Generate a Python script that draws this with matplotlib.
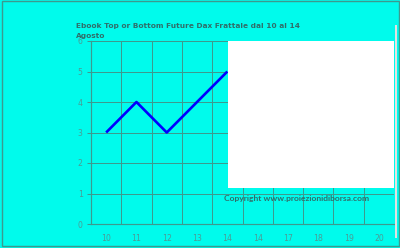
import matplotlib
matplotlib.use("Agg")
import matplotlib.pyplot as plt
from matplotlib.patches import Rectangle

categories = ["10", "11", "12", "13", "14", "14", "17", "18", "19", "20"]
values = [3, 4, 3, 4, 5]
yticks = [0, 1, 2, 3, 4, 5, 6]
title_lines = ["Ebook Top or Bottom Future Dax Frattale dal 10 al 14", "Agosto"]
copyright_text = "Copyright www.proiezionidiborsa.com"

W, H = 400, 248
bg = "#00fbec"
grid_c = "#3c9a8e"
tick_c = "#4a9c96"
title_c = "#2f6e6a"

fig = plt.figure(figsize=(W / 100, H / 100), dpi=100, facecolor=bg)

def fx(px):
    return px / W

def fy(py):
    return 1 - py / H

left, right, top, bottom = 91, 394, 41, 224
ax = fig.add_axes([fx(left), fy(bottom), fx(right - left), (bottom - top) / H])
ax.set_facecolor(bg)

x = list(range(len(values)))
ax.plot(x, values, color="#0000ff", lw=1.9, solid_capstyle="butt", zorder=3)

ax.set_xlim(-0.5, len(categories) - 0.5)
ax.set_ylim(0, 6)
ax.set_xticks(range(len(categories)))
ax.set_xticklabels(categories)
ax.set_yticks(yticks)
ax.set_yticklabels([str(v) for v in yticks])

for k in range(len(categories) - 1):
    ax.axvline(k + 0.5, color=grid_c, lw=0.72, zorder=1)
for v in yticks[1:]:
    ax.axhline(v, color=grid_c, lw=0.72, zorder=1)

for s in ["top", "right"]:
    ax.spines[s].set_visible(False)
for s in ["left", "bottom"]:
    ax.spines[s].set_color(grid_c)
    ax.spines[s].set_linewidth(0.85)

ax.tick_params(axis="x", length=0, pad=7, labelsize=5.6, labelcolor=tick_c)
ax.tick_params(axis="y", length=3, width=0.75, color=grid_c, pad=3,
               labelsize=5.6, labelcolor=tick_c)

# white box with light side bar
fig.patches.append(Rectangle((fx(228), fy(188)), fx(394 - 228), (188 - 41) / H,
                             transform=fig.transFigure, facecolor="white",
                             edgecolor="none", zorder=5))
fig.patches.append(Rectangle((fx(395), fy(238)), fx(2), (238 - 25) / H,
                             transform=fig.transFigure, facecolor="#e2e2e2",
                             edgecolor="none", zorder=5))

for i, line in enumerate(title_lines):
    fig.text(fx(76), fy(28 + 10 * i), line, ha="left", va="baseline",
             fontsize=5.3, fontweight="bold", color=title_c,
             family="DejaVu Sans")
fig.text(fx(224), fy(199), copyright_text, ha="left", va="center", fontsize=6.1,
         fontweight="bold", color=title_c, family="Lato", zorder=6)

# figure border
fig.patches.append(Rectangle((fx(1.5), fy(245.5)), fx(397), 245 / H,
                             transform=fig.transFigure, facecolor="none",
                             edgecolor=grid_c, lw=1.0, zorder=10))

fig.savefig("out.png", dpi=100, facecolor=bg)
